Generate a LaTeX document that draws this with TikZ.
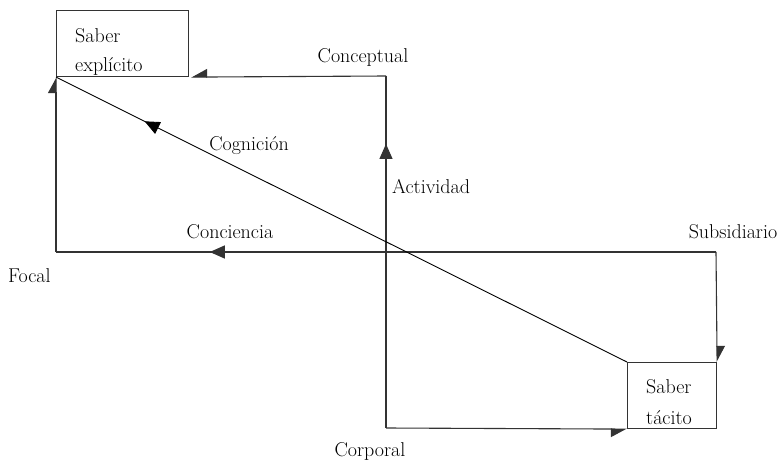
\documentclass[tikz,border=0pt]{standalone}
\usetikzlibrary{arrows.meta,decorations.markings}

\tikzset{
  box/.style={draw=black!80, line width=1.1pt, rectangle, inner sep=0pt},
  txt/.style={font=\fontsize{20}{24}\selectfont, inner sep=0pt},
  link/.style={draw=black!80, line width=1.1pt},
  halftip/.style={-{Triangle[harpoon,length=15pt,width=16pt]}},
  halftipsw/.style={-{Triangle[harpoon,swap,length=15pt,width=16pt]}},
  midarrow/.style={postaction={decorate}, decoration={markings,
    mark=at position #1 with {\arrow{Triangle[length=15pt,width=13pt]}}}}
}

\begin{document}
\begin{tikzpicture}[x=1pt,y=-1pt]
\useasboundingbox (0,0) rectangle (782,460);

% boxes
\node[box, minimum width=132pt, minimum height=66pt, anchor=north west] (expl) at (56,10) {};
\node[box, minimum width=89pt, minimum height=66pt, anchor=north west] (tac) at (627,362) {};
\node[txt, anchor=base west] (explA) at (75,43) {Saber};
\node[txt, anchor=base west] (explB) at (75,71) {explícito};
\node[txt, anchor=base west] (tacA) at (646,393) {Saber};
\node[txt, anchor=base west] (tacB) at (646,424) {tácito};

% corners
\coordinate (corp) at (386,428);
\coordinate (conc) at (386,76);
\coordinate (focal) at (56,252);
\coordinate (subs) at (716,252);

% connectors
\draw[link, halftipsw] (corp) -- (tac.south west);
\draw[link, midarrow=0.807] (corp) -- (conc);
\draw[link, halftipsw] (conc) -- ([xshift=2pt]expl.south east);
\draw[link, halftip] (focal) -- (expl.south west);
\draw[link, midarrow=0.767] (subs) -- (focal);
\draw[link, halftip] (subs) -- (tac.north east);
\draw[black, line width=0.9pt, midarrow=0.845] (tac.north west) -- (expl.south west);

% labels
\node[txt, anchor=base] (lconceptual) at (363,63) {Conceptual};
\node[txt, anchor=base] (lcognicion) at (249,150) {Cognición};
\node[txt, anchor=base west] (lactividad) at (392,193) {Actividad};
\node[txt, anchor=base] (lconciencia) at (230,238) {Conciencia};
\node[txt, anchor=base] (lsubsidiario) at (733,238) {Subsidiario};
\node[txt, anchor=base west] (lfocal) at (8,282) {Focal};
\node[txt, anchor=base] (lcorporal) at (370,456) {Corporal};
\end{tikzpicture}
\end{document}
